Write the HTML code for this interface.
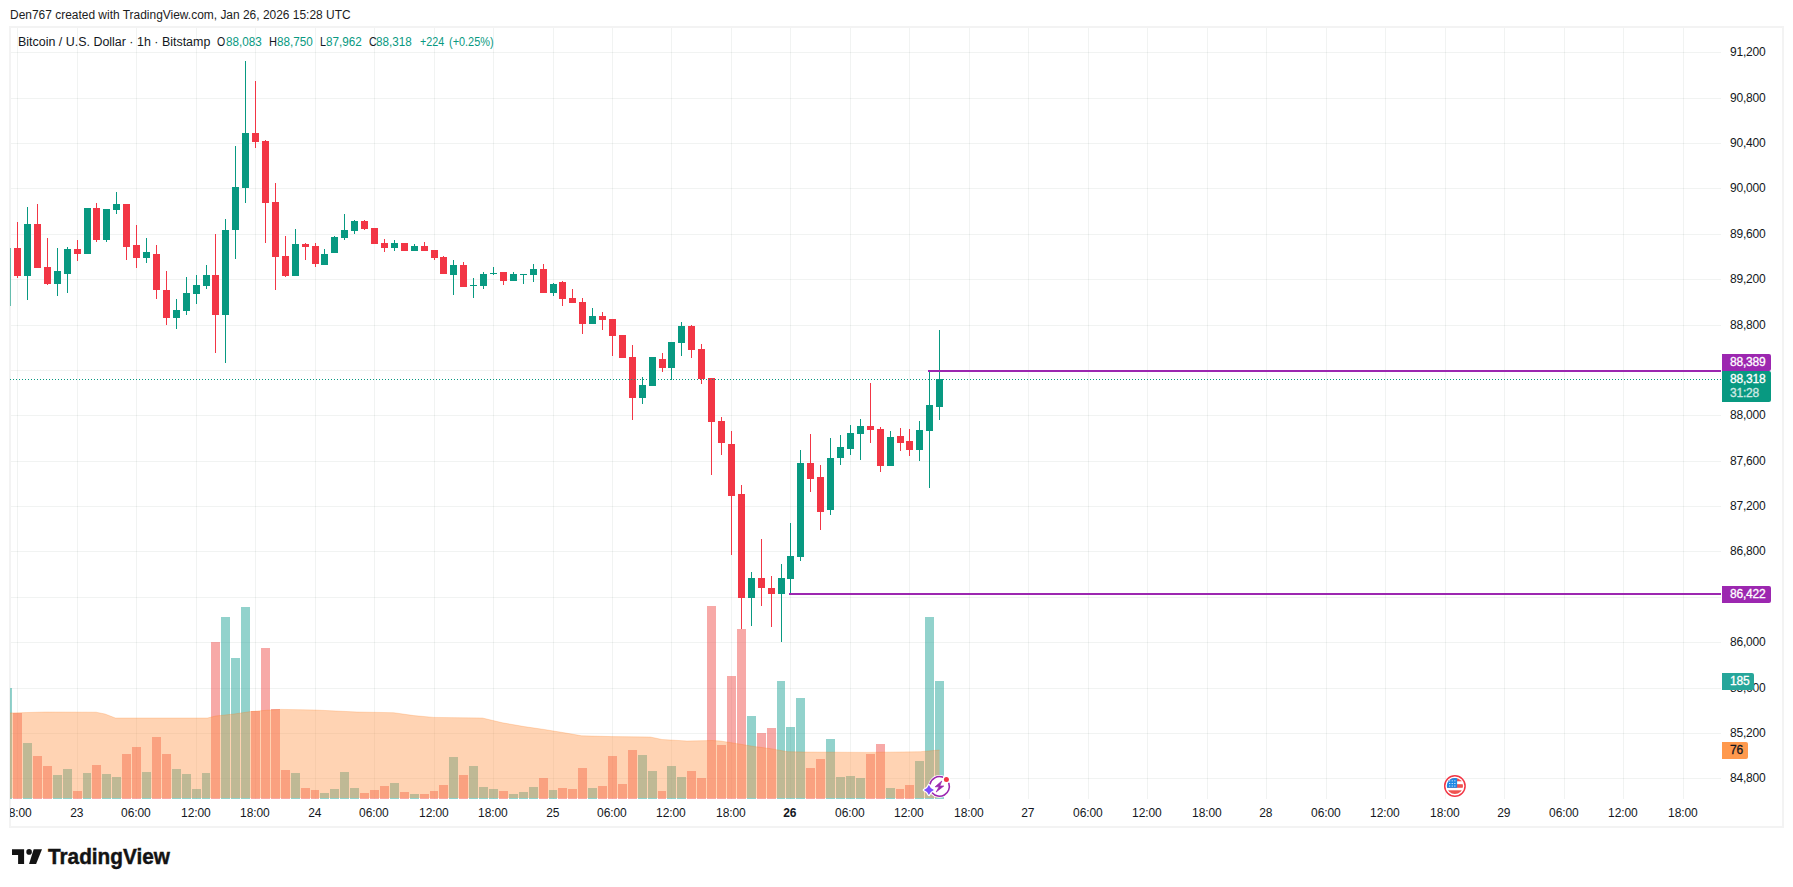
<!DOCTYPE html><html><head><meta charset="utf-8"><title>BTCUSD chart</title><style>
html,body{margin:0;padding:0;background:#fff}
body{width:1793px;height:887px;position:relative;overflow:hidden;font-family:"Liberation Sans",sans-serif;color:#131722}
.t{position:absolute;white-space:nowrap;font-size:12px;line-height:14px}
.frame{position:absolute;left:9px;top:26px;width:1771px;height:798px;border:2px solid #f3f3f3;box-sizing:content-box}
svg{position:absolute;left:0;top:0}
.g{color:#089981}
.pl{position:absolute;left:1722px;width:49px;height:17px;border-radius:0 2px 2px 0;color:#fff;font-size:12px;line-height:17px;box-sizing:border-box;padding-left:8px;white-space:nowrap;-webkit-text-stroke:0.3px currentColor;letter-spacing:-0.2px}
.ax{position:absolute;left:1730px;font-size:12px;line-height:14px;white-space:nowrap;color:#131722;letter-spacing:-0.2px}
.tx{position:absolute;top:806px;width:60px;margin-left:-30.7px;text-align:center;font-size:12px;line-height:14px;white-space:nowrap;color:#131722;letter-spacing:-0.12px}

</style></head><body>
<div class="t " style="left:9.60px;top:8px;transform:scaleX(0.9960);transform-origin:0 0;color:#1c1c1c;" id="title">Den767 created with TradingView.com, Jan 26, 2026 15:28 UTC</div>
<div class="frame"></div>
<svg width="1793" height="887" viewBox="0 0 1793 887">
<defs><clipPath id="pane"><rect x="10" y="27" width="1711" height="772"/></clipPath></defs>
<g fill="#284637" fill-opacity="0.065" shape-rendering="crispEdges">
<rect x="11" y="52" width="1710" height="1"/>
<rect x="11" y="98" width="1710" height="1"/>
<rect x="11" y="143" width="1710" height="1"/>
<rect x="11" y="188" width="1710" height="1"/>
<rect x="11" y="234" width="1710" height="1"/>
<rect x="11" y="279" width="1710" height="1"/>
<rect x="11" y="325" width="1710" height="1"/>
<rect x="11" y="370" width="1710" height="1"/>
<rect x="11" y="415" width="1710" height="1"/>
<rect x="11" y="461" width="1710" height="1"/>
<rect x="11" y="506" width="1710" height="1"/>
<rect x="11" y="551" width="1710" height="1"/>
<rect x="11" y="597" width="1710" height="1"/>
<rect x="11" y="642" width="1710" height="1"/>
<rect x="11" y="688" width="1710" height="1"/>
<rect x="11" y="733" width="1710" height="1"/>
<rect x="11" y="778" width="1710" height="1"/>
<rect x="17" y="28" width="1" height="771"/>
<rect x="77" y="28" width="1" height="771"/>
<rect x="136" y="28" width="1" height="771"/>
<rect x="196" y="28" width="1" height="771"/>
<rect x="255" y="28" width="1" height="771"/>
<rect x="315" y="28" width="1" height="771"/>
<rect x="374" y="28" width="1" height="771"/>
<rect x="434" y="28" width="1" height="771"/>
<rect x="493" y="28" width="1" height="771"/>
<rect x="553" y="28" width="1" height="771"/>
<rect x="612" y="28" width="1" height="771"/>
<rect x="671" y="28" width="1" height="771"/>
<rect x="731" y="28" width="1" height="771"/>
<rect x="790" y="28" width="1" height="771"/>
<rect x="850" y="28" width="1" height="771"/>
<rect x="909" y="28" width="1" height="771"/>
<rect x="969" y="28" width="1" height="771"/>
<rect x="1028" y="28" width="1" height="771"/>
<rect x="1088" y="28" width="1" height="771"/>
<rect x="1147" y="28" width="1" height="771"/>
<rect x="1207" y="28" width="1" height="771"/>
<rect x="1266" y="28" width="1" height="771"/>
<rect x="1326" y="28" width="1" height="771"/>
<rect x="1385" y="28" width="1" height="771"/>
<rect x="1445" y="28" width="1" height="771"/>
<rect x="1504" y="28" width="1" height="771"/>
<rect x="1564" y="28" width="1" height="771"/>
<rect x="1623" y="28" width="1" height="771"/>
<rect x="1683" y="28" width="1" height="771"/>
</g>
<g clip-path="url(#pane)" shape-rendering="crispEdges">
<rect x="10" y="688" width="2" height="111" fill="#26A69A" fill-opacity="0.5"/>
<rect x="13" y="713" width="9" height="86" fill="#EF5350" fill-opacity="0.5"/>
<rect x="23" y="743" width="9" height="56" fill="#26A69A" fill-opacity="0.5"/>
<rect x="33" y="756" width="9" height="43" fill="#EF5350" fill-opacity="0.5"/>
<rect x="43" y="766" width="9" height="33" fill="#EF5350" fill-opacity="0.5"/>
<rect x="53" y="775" width="9" height="24" fill="#26A69A" fill-opacity="0.5"/>
<rect x="63" y="769" width="9" height="30" fill="#26A69A" fill-opacity="0.5"/>
<rect x="73" y="791" width="9" height="8" fill="#EF5350" fill-opacity="0.5"/>
<rect x="83" y="773" width="8" height="26" fill="#26A69A" fill-opacity="0.5"/>
<rect x="92" y="765" width="9" height="34" fill="#EF5350" fill-opacity="0.5"/>
<rect x="102" y="774" width="9" height="25" fill="#26A69A" fill-opacity="0.5"/>
<rect x="112" y="777" width="9" height="22" fill="#26A69A" fill-opacity="0.5"/>
<rect x="122" y="754" width="9" height="45" fill="#EF5350" fill-opacity="0.5"/>
<rect x="132" y="747" width="9" height="52" fill="#EF5350" fill-opacity="0.5"/>
<rect x="142" y="772" width="9" height="27" fill="#26A69A" fill-opacity="0.5"/>
<rect x="152" y="737" width="9" height="62" fill="#EF5350" fill-opacity="0.5"/>
<rect x="162" y="754" width="9" height="45" fill="#EF5350" fill-opacity="0.5"/>
<rect x="172" y="769" width="9" height="30" fill="#26A69A" fill-opacity="0.5"/>
<rect x="182" y="774" width="9" height="25" fill="#26A69A" fill-opacity="0.5"/>
<rect x="192" y="789" width="9" height="10" fill="#26A69A" fill-opacity="0.5"/>
<rect x="202" y="773" width="8" height="26" fill="#26A69A" fill-opacity="0.5"/>
<rect x="211" y="642" width="9" height="157" fill="#EF5350" fill-opacity="0.5"/>
<rect x="221" y="617" width="9" height="182" fill="#26A69A" fill-opacity="0.5"/>
<rect x="231" y="658" width="9" height="141" fill="#26A69A" fill-opacity="0.5"/>
<rect x="241" y="607" width="9" height="192" fill="#26A69A" fill-opacity="0.5"/>
<rect x="251" y="711" width="9" height="88" fill="#EF5350" fill-opacity="0.5"/>
<rect x="261" y="648" width="9" height="151" fill="#EF5350" fill-opacity="0.5"/>
<rect x="271" y="709" width="9" height="90" fill="#EF5350" fill-opacity="0.5"/>
<rect x="281" y="770" width="9" height="29" fill="#EF5350" fill-opacity="0.5"/>
<rect x="291" y="773" width="9" height="26" fill="#26A69A" fill-opacity="0.5"/>
<rect x="301" y="788" width="9" height="11" fill="#EF5350" fill-opacity="0.5"/>
<rect x="311" y="790" width="8" height="9" fill="#EF5350" fill-opacity="0.5"/>
<rect x="320" y="793" width="9" height="6" fill="#26A69A" fill-opacity="0.5"/>
<rect x="330" y="789" width="9" height="10" fill="#26A69A" fill-opacity="0.5"/>
<rect x="340" y="772" width="9" height="27" fill="#26A69A" fill-opacity="0.5"/>
<rect x="350" y="788" width="9" height="11" fill="#26A69A" fill-opacity="0.5"/>
<rect x="360" y="793" width="9" height="6" fill="#EF5350" fill-opacity="0.5"/>
<rect x="370" y="790" width="9" height="9" fill="#EF5350" fill-opacity="0.5"/>
<rect x="380" y="786" width="9" height="13" fill="#EF5350" fill-opacity="0.5"/>
<rect x="390" y="783" width="9" height="16" fill="#26A69A" fill-opacity="0.5"/>
<rect x="400" y="792" width="9" height="7" fill="#EF5350" fill-opacity="0.5"/>
<rect x="410" y="794" width="9" height="5" fill="#26A69A" fill-opacity="0.5"/>
<rect x="420" y="794" width="9" height="5" fill="#EF5350" fill-opacity="0.5"/>
<rect x="430" y="791" width="8" height="8" fill="#EF5350" fill-opacity="0.5"/>
<rect x="439" y="785" width="9" height="14" fill="#EF5350" fill-opacity="0.5"/>
<rect x="449" y="757" width="9" height="42" fill="#26A69A" fill-opacity="0.5"/>
<rect x="459" y="775" width="9" height="24" fill="#EF5350" fill-opacity="0.5"/>
<rect x="469" y="766" width="9" height="33" fill="#26A69A" fill-opacity="0.5"/>
<rect x="479" y="787" width="9" height="12" fill="#26A69A" fill-opacity="0.5"/>
<rect x="489" y="789" width="9" height="10" fill="#26A69A" fill-opacity="0.5"/>
<rect x="499" y="791" width="9" height="8" fill="#EF5350" fill-opacity="0.5"/>
<rect x="509" y="794" width="9" height="5" fill="#26A69A" fill-opacity="0.5"/>
<rect x="519" y="792" width="9" height="7" fill="#26A69A" fill-opacity="0.5"/>
<rect x="529" y="787" width="9" height="12" fill="#26A69A" fill-opacity="0.5"/>
<rect x="539" y="778" width="9" height="21" fill="#EF5350" fill-opacity="0.5"/>
<rect x="549" y="790" width="8" height="9" fill="#26A69A" fill-opacity="0.5"/>
<rect x="558" y="788" width="9" height="11" fill="#EF5350" fill-opacity="0.5"/>
<rect x="568" y="789" width="9" height="10" fill="#EF5350" fill-opacity="0.5"/>
<rect x="578" y="768" width="9" height="31" fill="#EF5350" fill-opacity="0.5"/>
<rect x="588" y="788" width="9" height="11" fill="#26A69A" fill-opacity="0.5"/>
<rect x="598" y="786" width="9" height="13" fill="#EF5350" fill-opacity="0.5"/>
<rect x="608" y="756" width="9" height="43" fill="#EF5350" fill-opacity="0.5"/>
<rect x="618" y="784" width="9" height="15" fill="#EF5350" fill-opacity="0.5"/>
<rect x="628" y="750" width="9" height="49" fill="#EF5350" fill-opacity="0.5"/>
<rect x="638" y="755" width="9" height="44" fill="#26A69A" fill-opacity="0.5"/>
<rect x="648" y="771" width="9" height="28" fill="#26A69A" fill-opacity="0.5"/>
<rect x="658" y="791" width="8" height="8" fill="#EF5350" fill-opacity="0.5"/>
<rect x="667" y="766" width="9" height="33" fill="#26A69A" fill-opacity="0.5"/>
<rect x="677" y="777" width="9" height="22" fill="#26A69A" fill-opacity="0.5"/>
<rect x="687" y="771" width="9" height="28" fill="#EF5350" fill-opacity="0.5"/>
<rect x="697" y="778" width="9" height="21" fill="#EF5350" fill-opacity="0.5"/>
<rect x="707" y="606" width="9" height="193" fill="#EF5350" fill-opacity="0.5"/>
<rect x="717" y="745" width="9" height="54" fill="#EF5350" fill-opacity="0.5"/>
<rect x="727" y="676" width="9" height="123" fill="#EF5350" fill-opacity="0.5"/>
<rect x="737" y="629" width="9" height="170" fill="#EF5350" fill-opacity="0.5"/>
<rect x="747" y="716" width="9" height="83" fill="#26A69A" fill-opacity="0.5"/>
<rect x="757" y="733" width="9" height="66" fill="#EF5350" fill-opacity="0.5"/>
<rect x="767" y="728" width="9" height="71" fill="#EF5350" fill-opacity="0.5"/>
<rect x="777" y="681" width="8" height="118" fill="#26A69A" fill-opacity="0.5"/>
<rect x="786" y="727" width="9" height="72" fill="#26A69A" fill-opacity="0.5"/>
<rect x="796" y="698" width="9" height="101" fill="#26A69A" fill-opacity="0.5"/>
<rect x="806" y="768" width="9" height="31" fill="#EF5350" fill-opacity="0.5"/>
<rect x="816" y="759" width="9" height="40" fill="#EF5350" fill-opacity="0.5"/>
<rect x="826" y="739" width="9" height="60" fill="#26A69A" fill-opacity="0.5"/>
<rect x="836" y="777" width="9" height="22" fill="#26A69A" fill-opacity="0.5"/>
<rect x="846" y="776" width="9" height="23" fill="#26A69A" fill-opacity="0.5"/>
<rect x="856" y="778" width="9" height="21" fill="#26A69A" fill-opacity="0.5"/>
<rect x="866" y="754" width="9" height="45" fill="#EF5350" fill-opacity="0.5"/>
<rect x="876" y="744" width="9" height="55" fill="#EF5350" fill-opacity="0.5"/>
<rect x="886" y="788" width="9" height="11" fill="#26A69A" fill-opacity="0.5"/>
<rect x="896" y="789" width="8" height="10" fill="#EF5350" fill-opacity="0.5"/>
<rect x="905" y="785" width="9" height="14" fill="#EF5350" fill-opacity="0.5"/>
<rect x="915" y="761" width="9" height="38" fill="#26A69A" fill-opacity="0.5"/>
<rect x="925" y="617" width="9" height="182" fill="#26A69A" fill-opacity="0.5"/>
<rect x="935" y="681" width="9" height="118" fill="#26A69A" fill-opacity="0.5"/>
</g><g clip-path="url(#pane)">
<polygon points="10.0,713.0 45.0,712.0 96.0,712.2 105.0,714.0 115.4,718.0 207.5,718.0 215.8,716.0 234.0,714.0 251.0,711.5 267.7,710.2 281.0,709.4 300.0,709.7 315.0,710.0 357.0,712.0 393.7,712.7 413.8,715.6 433.9,717.4 482.4,718.0 502.5,722.8 524.2,726.6 544.3,729.5 564.4,732.8 581.7,735.8 611.8,736.6 650.3,737.0 662.0,739.5 687.0,741.0 712.0,740.5 720.6,741.0 737.3,743.7 754.0,746.5 770.8,748.7 787.5,751.7 804.2,752.0 837.7,752.2 867.0,752.4 920.5,751.7 939.5,750.0 939.5,798 10,798" fill="#FF964A" fill-opacity="0.42"/>
<polyline points="10.0,713.0 45.0,712.0 96.0,712.2 105.0,714.0 115.4,718.0 207.5,718.0 215.8,716.0 234.0,714.0 251.0,711.5 267.7,710.2 281.0,709.4 300.0,709.7 315.0,710.0 357.0,712.0 393.7,712.7 413.8,715.6 433.9,717.4 482.4,718.0 502.5,722.8 524.2,726.6 544.3,729.5 564.4,732.8 581.7,735.8 611.8,736.6 650.3,737.0 662.0,739.5 687.0,741.0 712.0,740.5 720.6,741.0 737.3,743.7 754.0,746.5 770.8,748.7 787.5,751.7 804.2,752.0 837.7,752.2 867.0,752.4 920.5,751.7 939.5,750.0" fill="none" stroke="#FF6D00" stroke-opacity="0.2" stroke-width="1"/>
</g><g clip-path="url(#pane)" shape-rendering="crispEdges">
<rect x="10" y="248" width="1" height="58" fill="#089981" fill-opacity="0.6"/>
<rect x="17" y="222" width="1" height="56" fill="#F23645"/>
<rect x="14" y="248" width="7" height="28" fill="#F23645"/>
<rect x="27" y="207" width="1" height="93" fill="#089981"/>
<rect x="24" y="224" width="7" height="52" fill="#089981"/>
<rect x="37" y="204" width="1" height="64" fill="#F23645"/>
<rect x="34" y="224" width="7" height="44" fill="#F23645"/>
<rect x="47" y="238" width="1" height="47" fill="#F23645"/>
<rect x="44" y="267" width="7" height="17" fill="#F23645"/>
<rect x="57" y="248" width="1" height="48" fill="#089981"/>
<rect x="54" y="271" width="7" height="13" fill="#089981"/>
<rect x="67" y="247" width="1" height="46" fill="#089981"/>
<rect x="64" y="249" width="7" height="25" fill="#089981"/>
<rect x="77" y="240" width="1" height="21" fill="#F23645"/>
<rect x="74" y="249" width="7" height="5" fill="#F23645"/>
<rect x="87" y="208" width="1" height="46" fill="#089981"/>
<rect x="84" y="208" width="7" height="46" fill="#089981"/>
<rect x="96" y="203" width="1" height="39" fill="#F23645"/>
<rect x="93" y="208" width="7" height="32" fill="#F23645"/>
<rect x="106" y="209" width="1" height="33" fill="#089981"/>
<rect x="103" y="209" width="7" height="31" fill="#089981"/>
<rect x="116" y="192" width="1" height="22" fill="#089981"/>
<rect x="113" y="204" width="7" height="6" fill="#089981"/>
<rect x="126" y="204" width="1" height="56" fill="#F23645"/>
<rect x="123" y="204" width="7" height="43" fill="#F23645"/>
<rect x="136" y="225" width="1" height="43" fill="#F23645"/>
<rect x="133" y="245" width="7" height="13" fill="#F23645"/>
<rect x="146" y="238" width="1" height="25" fill="#089981"/>
<rect x="143" y="252" width="7" height="6" fill="#089981"/>
<rect x="156" y="245" width="1" height="54" fill="#F23645"/>
<rect x="153" y="254" width="7" height="36" fill="#F23645"/>
<rect x="166" y="271" width="1" height="54" fill="#F23645"/>
<rect x="163" y="290" width="7" height="28" fill="#F23645"/>
<rect x="176" y="299" width="1" height="30" fill="#089981"/>
<rect x="173" y="310" width="7" height="8" fill="#089981"/>
<rect x="186" y="277" width="1" height="38" fill="#089981"/>
<rect x="183" y="293" width="7" height="18" fill="#089981"/>
<rect x="196" y="275" width="1" height="29" fill="#089981"/>
<rect x="193" y="285" width="7" height="9" fill="#089981"/>
<rect x="206" y="265" width="1" height="24" fill="#089981"/>
<rect x="203" y="275" width="7" height="11" fill="#089981"/>
<rect x="215" y="234" width="1" height="119" fill="#F23645"/>
<rect x="212" y="275" width="7" height="40" fill="#F23645"/>
<rect x="225" y="219" width="1" height="144" fill="#089981"/>
<rect x="222" y="230" width="7" height="85" fill="#089981"/>
<rect x="235" y="146" width="1" height="113" fill="#089981"/>
<rect x="232" y="187" width="7" height="43" fill="#089981"/>
<rect x="245" y="61" width="1" height="142" fill="#089981"/>
<rect x="242" y="133" width="7" height="55" fill="#089981"/>
<rect x="255" y="81" width="1" height="67" fill="#F23645"/>
<rect x="252" y="133" width="7" height="9" fill="#F23645"/>
<rect x="265" y="140" width="1" height="103" fill="#F23645"/>
<rect x="262" y="141" width="7" height="62" fill="#F23645"/>
<rect x="275" y="183" width="1" height="107" fill="#F23645"/>
<rect x="272" y="202" width="7" height="55" fill="#F23645"/>
<rect x="285" y="236" width="1" height="41" fill="#F23645"/>
<rect x="282" y="256" width="7" height="20" fill="#F23645"/>
<rect x="295" y="229" width="1" height="47" fill="#089981"/>
<rect x="292" y="244" width="7" height="32" fill="#089981"/>
<rect x="305" y="243" width="1" height="17" fill="#F23645"/>
<rect x="302" y="244" width="7" height="3" fill="#F23645"/>
<rect x="315" y="243" width="1" height="24" fill="#F23645"/>
<rect x="312" y="246" width="7" height="18" fill="#F23645"/>
<rect x="324" y="249" width="1" height="16" fill="#089981"/>
<rect x="321" y="254" width="7" height="11" fill="#089981"/>
<rect x="334" y="236" width="1" height="17" fill="#089981"/>
<rect x="331" y="237" width="7" height="16" fill="#089981"/>
<rect x="344" y="214" width="1" height="26" fill="#089981"/>
<rect x="341" y="230" width="7" height="8" fill="#089981"/>
<rect x="354" y="220" width="1" height="14" fill="#089981"/>
<rect x="351" y="221" width="7" height="10" fill="#089981"/>
<rect x="364" y="220" width="1" height="10" fill="#F23645"/>
<rect x="361" y="221" width="7" height="8" fill="#F23645"/>
<rect x="374" y="228" width="1" height="16" fill="#F23645"/>
<rect x="371" y="228" width="7" height="16" fill="#F23645"/>
<rect x="384" y="239" width="1" height="13" fill="#F23645"/>
<rect x="381" y="243" width="7" height="5" fill="#F23645"/>
<rect x="394" y="240" width="1" height="11" fill="#089981"/>
<rect x="391" y="243" width="7" height="5" fill="#089981"/>
<rect x="404" y="243" width="1" height="8" fill="#F23645"/>
<rect x="401" y="243" width="7" height="8" fill="#F23645"/>
<rect x="414" y="244" width="1" height="7" fill="#089981"/>
<rect x="411" y="246" width="7" height="5" fill="#089981"/>
<rect x="424" y="242" width="1" height="9" fill="#F23645"/>
<rect x="421" y="246" width="7" height="5" fill="#F23645"/>
<rect x="434" y="250" width="1" height="10" fill="#F23645"/>
<rect x="431" y="250" width="7" height="8" fill="#F23645"/>
<rect x="443" y="256" width="1" height="18" fill="#F23645"/>
<rect x="440" y="257" width="7" height="17" fill="#F23645"/>
<rect x="453" y="260" width="1" height="35" fill="#089981"/>
<rect x="450" y="265" width="7" height="10" fill="#089981"/>
<rect x="463" y="262" width="1" height="25" fill="#F23645"/>
<rect x="460" y="265" width="7" height="22" fill="#F23645"/>
<rect x="473" y="278" width="1" height="20" fill="#089981"/>
<rect x="470" y="285" width="7" height="1" fill="#089981"/>
<rect x="483" y="272" width="1" height="17" fill="#089981"/>
<rect x="480" y="274" width="7" height="12" fill="#089981"/>
<rect x="493" y="267" width="1" height="8" fill="#089981"/>
<rect x="490" y="273" width="7" height="1" fill="#089981"/>
<rect x="503" y="272" width="1" height="13" fill="#F23645"/>
<rect x="500" y="272" width="7" height="9" fill="#F23645"/>
<rect x="513" y="272" width="1" height="9" fill="#089981"/>
<rect x="510" y="274" width="7" height="7" fill="#089981"/>
<rect x="523" y="274" width="1" height="10" fill="#089981"/>
<rect x="520" y="274" width="7" height="1" fill="#089981"/>
<rect x="533" y="264" width="1" height="18" fill="#089981"/>
<rect x="530" y="269" width="7" height="6" fill="#089981"/>
<rect x="543" y="264" width="1" height="29" fill="#F23645"/>
<rect x="540" y="269" width="7" height="24" fill="#F23645"/>
<rect x="553" y="283" width="1" height="13" fill="#089981"/>
<rect x="550" y="284" width="7" height="9" fill="#089981"/>
<rect x="562" y="281" width="1" height="25" fill="#F23645"/>
<rect x="559" y="282" width="7" height="17" fill="#F23645"/>
<rect x="572" y="289" width="1" height="14" fill="#F23645"/>
<rect x="569" y="298" width="7" height="5" fill="#F23645"/>
<rect x="582" y="298" width="1" height="36" fill="#F23645"/>
<rect x="579" y="302" width="7" height="22" fill="#F23645"/>
<rect x="592" y="308" width="1" height="16" fill="#089981"/>
<rect x="589" y="316" width="7" height="8" fill="#089981"/>
<rect x="602" y="312" width="1" height="18" fill="#F23645"/>
<rect x="599" y="316" width="7" height="4" fill="#F23645"/>
<rect x="612" y="319" width="1" height="37" fill="#F23645"/>
<rect x="609" y="319" width="7" height="17" fill="#F23645"/>
<rect x="622" y="335" width="1" height="23" fill="#F23645"/>
<rect x="619" y="335" width="7" height="23" fill="#F23645"/>
<rect x="632" y="345" width="1" height="75" fill="#F23645"/>
<rect x="629" y="357" width="7" height="41" fill="#F23645"/>
<rect x="642" y="377" width="1" height="27" fill="#089981"/>
<rect x="639" y="385" width="7" height="13" fill="#089981"/>
<rect x="652" y="357" width="1" height="29" fill="#089981"/>
<rect x="649" y="357" width="7" height="29" fill="#089981"/>
<rect x="662" y="353" width="1" height="19" fill="#F23645"/>
<rect x="659" y="359" width="7" height="9" fill="#F23645"/>
<rect x="671" y="342" width="1" height="38" fill="#089981"/>
<rect x="668" y="342" width="7" height="26" fill="#089981"/>
<rect x="681" y="322" width="1" height="34" fill="#089981"/>
<rect x="678" y="326" width="7" height="17" fill="#089981"/>
<rect x="691" y="325" width="1" height="33" fill="#F23645"/>
<rect x="688" y="326" width="7" height="24" fill="#F23645"/>
<rect x="701" y="344" width="1" height="40" fill="#F23645"/>
<rect x="698" y="349" width="7" height="30" fill="#F23645"/>
<rect x="711" y="378" width="1" height="97" fill="#F23645"/>
<rect x="708" y="378" width="7" height="44" fill="#F23645"/>
<rect x="721" y="417" width="1" height="38" fill="#F23645"/>
<rect x="718" y="421" width="7" height="22" fill="#F23645"/>
<rect x="731" y="431" width="1" height="124" fill="#F23645"/>
<rect x="728" y="444" width="7" height="52" fill="#F23645"/>
<rect x="741" y="485" width="1" height="144" fill="#F23645"/>
<rect x="738" y="494" width="7" height="104" fill="#F23645"/>
<rect x="751" y="572" width="1" height="54" fill="#089981"/>
<rect x="748" y="578" width="7" height="20" fill="#089981"/>
<rect x="761" y="539" width="1" height="67" fill="#F23645"/>
<rect x="758" y="578" width="7" height="10" fill="#F23645"/>
<rect x="771" y="576" width="1" height="51" fill="#F23645"/>
<rect x="768" y="588" width="7" height="6" fill="#F23645"/>
<rect x="781" y="564" width="1" height="78" fill="#089981"/>
<rect x="778" y="578" width="7" height="16" fill="#089981"/>
<rect x="790" y="523" width="1" height="71" fill="#089981"/>
<rect x="787" y="556" width="7" height="23" fill="#089981"/>
<rect x="800" y="450" width="1" height="111" fill="#089981"/>
<rect x="797" y="463" width="7" height="94" fill="#089981"/>
<rect x="810" y="434" width="1" height="58" fill="#F23645"/>
<rect x="807" y="463" width="7" height="16" fill="#F23645"/>
<rect x="820" y="465" width="1" height="65" fill="#F23645"/>
<rect x="817" y="477" width="7" height="35" fill="#F23645"/>
<rect x="830" y="438" width="1" height="77" fill="#089981"/>
<rect x="827" y="458" width="7" height="52" fill="#089981"/>
<rect x="840" y="435" width="1" height="30" fill="#089981"/>
<rect x="837" y="447" width="7" height="11" fill="#089981"/>
<rect x="850" y="425" width="1" height="30" fill="#089981"/>
<rect x="847" y="433" width="7" height="16" fill="#089981"/>
<rect x="860" y="419" width="1" height="41" fill="#089981"/>
<rect x="857" y="426" width="7" height="8" fill="#089981"/>
<rect x="870" y="383" width="1" height="60" fill="#F23645"/>
<rect x="867" y="426" width="7" height="4" fill="#F23645"/>
<rect x="880" y="427" width="1" height="45" fill="#F23645"/>
<rect x="877" y="429" width="7" height="37" fill="#F23645"/>
<rect x="890" y="431" width="1" height="35" fill="#089981"/>
<rect x="887" y="437" width="7" height="29" fill="#089981"/>
<rect x="900" y="428" width="1" height="23" fill="#F23645"/>
<rect x="897" y="436" width="7" height="7" fill="#F23645"/>
<rect x="909" y="429" width="1" height="27" fill="#F23645"/>
<rect x="906" y="441" width="7" height="9" fill="#F23645"/>
<rect x="919" y="421" width="1" height="40" fill="#089981"/>
<rect x="916" y="430" width="7" height="20" fill="#089981"/>
<rect x="929" y="370" width="1" height="118" fill="#089981"/>
<rect x="926" y="405" width="7" height="26" fill="#089981"/>
<rect x="939" y="330" width="1" height="90" fill="#089981"/>
<rect x="936" y="379" width="7" height="28" fill="#089981"/>
<rect x="928" y="370" width="793" height="2" fill="#9C27B0"/>
<rect x="789" y="593" width="932" height="2" fill="#9C27B0"/>
<line x1="10" y1="379.5" x2="1721" y2="379.5" stroke="#089981" stroke-width="1" stroke-dasharray="1 2"/>
</g>
<g>
<circle cx="939.5" cy="786.4" r="11.3" fill="#fff"/>
<path d="M929.99 784.03 A9.80 9.80 0 0 1 942.53 777.08" fill="none" stroke="#9C27B0" stroke-width="1.6" stroke-linecap="round"/>
<path d="M948.82 783.37 A9.80 9.80 0 0 1 932.10 792.83" fill="none" stroke="#9C27B0" stroke-width="1.6" stroke-linecap="round"/>
<polygon points="941.80,781.00 935.10,786.80 939.10,786.80 936.20,792.00 943.80,786.00 939.80,786.00" fill="#9C27B0" stroke="#9C27B0" stroke-width="0.7" stroke-linejoin="round"/>
<circle cx="946.4" cy="779.5" r="3.6" fill="#fff"/><circle cx="946.4" cy="779.5" r="2.5" fill="#F23645"/>
<path d="M928.90 785.10 Q930.20 788.70 933.80 790.00 Q930.20 791.30 928.90 794.90 Q927.60 791.30 924.00 790.00 Q927.60 788.70 928.90 785.10Z" fill="#fff" stroke="#fff" stroke-width="2.6" stroke-linejoin="round"/>
<path d="M928.90 785.00 Q930.20 788.70 933.90 790.00 Q930.20 791.30 928.90 795.00 Q927.60 791.30 923.90 790.00 Q927.60 788.70 928.90 785.00Z" fill="#7C4DFF"/>
</g>
<g>
<circle cx="1454.9" cy="786.0" r="11" fill="#fff"/>
<clipPath id="fl"><circle cx="1454.9" cy="786.0" r="8.1"/></clipPath>
<g clip-path="url(#fl)">
<rect x="1446.4" y="777.5" width="17" height="17" fill="#fff"/>
<rect x="1446.4" y="778.1" width="17" height="3.2" fill="#EF5350"/>
<rect x="1446.4" y="784.2" width="17" height="3.6" fill="#EF5350"/>
<rect x="1446.4" y="790.3" width="17" height="3.9" fill="#EF5350"/>
<rect x="1446.4" y="777.5" width="10.7" height="10.3" fill="#1E88E5"/>
<rect x="1449.1" y="780.4" width="1.1" height="0.9" fill="#fff"/>
<rect x="1451.7" y="780.4" width="1.1" height="0.9" fill="#fff"/>
<rect x="1454.3" y="780.4" width="1.1" height="0.9" fill="#fff"/>
<rect x="1449.1" y="783.0" width="1.1" height="0.9" fill="#fff"/>
<rect x="1451.7" y="783.0" width="1.1" height="0.9" fill="#fff"/>
<rect x="1454.3" y="783.0" width="1.1" height="0.9" fill="#fff"/>
<rect x="1449.1" y="785.6" width="1.1" height="0.9" fill="#fff"/>
<rect x="1451.7" y="785.6" width="1.1" height="0.9" fill="#fff"/>
<rect x="1454.3" y="785.6" width="1.1" height="0.9" fill="#fff"/>
</g>
<circle cx="1454.9" cy="786.0" r="10.2" fill="none" stroke="#F23645" stroke-width="1.5"/>
</g>
<g fill="#131313">
<path d="M12 849.3H24.1V863.9H18.1V854.9H12Z"/>
<circle cx="29.1" cy="851.9" r="2.8"/>
<path d="M33.7 849.3H42L36.1 863.9H29.1Z"/>
</g>
</svg>
<div class="t " style="left:18.00px;top:35px;transform:scaleX(1.0373);transform-origin:0 0;" id="lg1">Bitcoin / U.S. Dollar · 1h · Bitstamp</div>
<div class="t " style="left:217.20px;top:35px;transform:scaleX(0.8776);transform-origin:0 0;" id="lo">O</div>
<div class="t g" style="left:225.60px;top:35px;transform:scaleX(0.9727);transform-origin:0 0;" id="lov">88,083</div>
<div class="t " style="left:269.00px;top:35px;transform:scaleX(0.9225);transform-origin:0 0;" id="lh">H</div>
<div class="t g" style="left:276.80px;top:35px;transform:scaleX(0.9754);transform-origin:0 0;" id="lhv">88,750</div>
<div class="t " style="left:320.00px;top:35px;transform:scaleX(0.8972);transform-origin:0 0;" id="ll">L</div>
<div class="t g" style="left:325.50px;top:35px;transform:scaleX(0.9754);transform-origin:0 0;" id="llv">87,962</div>
<div class="t " style="left:368.80px;top:35px;transform:scaleX(0.8879);transform-origin:0 0;" id="lc">C</div>
<div class="t g" style="left:376.20px;top:35px;transform:scaleX(0.9727);transform-origin:0 0;" id="lcv">88,318</div>
<div class="t g" style="left:419.60px;top:35px;transform:scaleX(0.8953);transform-origin:0 0;" id="lch">+224</div>
<div class="t g" style="left:448.90px;top:35px;transform:scaleX(0.9096);transform-origin:0 0;" id="lpc">(+0.25%)</div>
<div class="ax" style="top:45px">91,200</div>
<div class="ax" style="top:91px">90,800</div>
<div class="ax" style="top:136px">90,400</div>
<div class="ax" style="top:181px">90,000</div>
<div class="ax" style="top:227px">89,600</div>
<div class="ax" style="top:272px">89,200</div>
<div class="ax" style="top:318px">88,800</div>
<div class="ax" style="top:363px">88,400</div>
<div class="ax" style="top:408px">88,000</div>
<div class="ax" style="top:454px">87,600</div>
<div class="ax" style="top:499px">87,200</div>
<div class="ax" style="top:544px">86,800</div>
<div class="ax" style="top:590px">86,400</div>
<div class="ax" style="top:635px">86,000</div>
<div class="ax" style="top:681px">85,600</div>
<div class="ax" style="top:726px">85,200</div>
<div class="ax" style="top:771px">84,800</div>
<div class="pl" style="top:673px;width:32px;background:#26A69A">185</div>
<div class="pl" style="top:742px;width:26px;background:#FF994D;color:#131722">76</div>
<div class="pl" style="top:354px;background:#9C27B0">88,389</div>
<div class="pl" style="top:371px;height:31px;background:#089981;line-height:14px;padding-top:0.5px">88,318<br><span style="opacity:.8">31:28</span></div>
<div class="pl" style="top:586px;background:#9C27B0">86,422</div>
<div style="position:absolute;left:10px;top:806px;width:30px;height:16px;overflow:hidden"><div class="tx" style="top:0;left:7.5px">18:00</div></div>
<div class="tx" style="left:77.5px;">23</div>
<div class="tx" style="left:136.5px;">06:00</div>
<div class="tx" style="left:196.5px;">12:00</div>
<div class="tx" style="left:255.5px;">18:00</div>
<div class="tx" style="left:315.5px;">24</div>
<div class="tx" style="left:374.5px;">06:00</div>
<div class="tx" style="left:434.5px;">12:00</div>
<div class="tx" style="left:493.5px;">18:00</div>
<div class="tx" style="left:553.5px;">25</div>
<div class="tx" style="left:612.5px;">06:00</div>
<div class="tx" style="left:671.5px;">12:00</div>
<div class="tx" style="left:731.5px;">18:00</div>
<div class="tx" style="left:790.5px;font-weight:bold;">26</div>
<div class="tx" style="left:850.5px;">06:00</div>
<div class="tx" style="left:909.5px;">12:00</div>
<div class="tx" style="left:969.5px;">18:00</div>
<div class="tx" style="left:1028.5px;">27</div>
<div class="tx" style="left:1088.5px;">06:00</div>
<div class="tx" style="left:1147.5px;">12:00</div>
<div class="tx" style="left:1207.5px;">18:00</div>
<div class="tx" style="left:1266.5px;">28</div>
<div class="tx" style="left:1326.5px;">06:00</div>
<div class="tx" style="left:1385.5px;">12:00</div>
<div class="tx" style="left:1445.5px;">18:00</div>
<div class="tx" style="left:1504.5px;">29</div>
<div class="tx" style="left:1564.5px;">06:00</div>
<div class="tx" style="left:1623.5px;">12:00</div>
<div class="tx" style="left:1683.5px;">18:00</div>
<div class="t " style="left:48.30px;top:844px;transform:scaleX(0.9797);transform-origin:0 0;-webkit-text-stroke:0.45px #131313;font-size:21.2px;line-height:25px;font-weight:bold;color:#131313;" id="tv">TradingView</div>
</body></html>
